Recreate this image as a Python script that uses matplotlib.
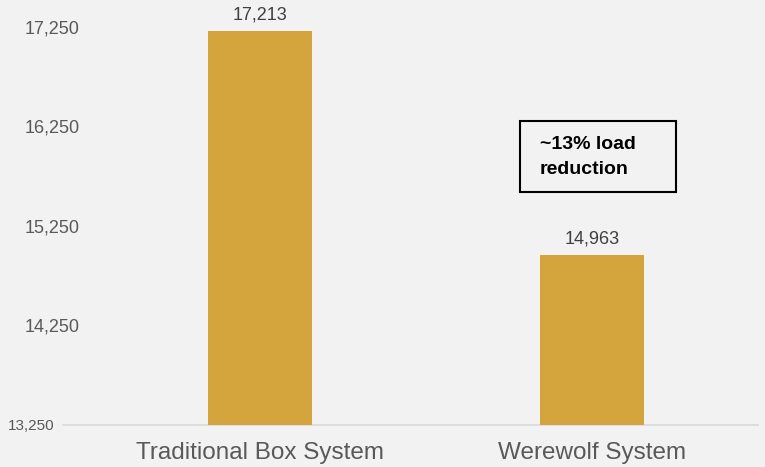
import matplotlib.pyplot as plt
import matplotlib.transforms as mtransforms
from matplotlib.ticker import FuncFormatter

plt.rcParams['font.family'] = ['Liberation Sans', 'DejaVu Sans']

# Data
categories = ['Traditional Box System', 'Werewolf System']
loads = [17213, 14963]
y_ticks = [13250, 14250, 15250, 16250, 17250]
note = '~13% load\nreduction'

bg = '#f2f2f2'
bar_color = '#d4a53c'

fig = plt.figure(figsize=(7.65, 4.67), dpi=100, facecolor=bg)
ax = fig.add_axes([63 / 765, 42 / 467, 695 / 765, 425 / 467])
ax.set_facecolor(bg)

x = list(range(len(categories)))
bars = ax.bar(x, loads, width=0.313, color=bar_color, zorder=3)

ax.set_xlim(-0.593, 1.5)
ax.set_ylim(13250, 17521)

# Value labels above each bar
for xi, v in zip(x, loads):
    ax.annotate(f'{v:,}', (xi, v), xytext=(0, 5), textcoords='offset points',
                ha='center', va='bottom', fontsize=13, color='#404040')

ax.set_yticks(y_ticks)
ax.yaxis.set_major_formatter(FuncFormatter(lambda v, p: f'{int(v):,}'))
ax.set_xticks(x)
ax.set_xticklabels(categories, fontsize=17.5, color='#595959')
ax.tick_params(axis='y', length=0, labelsize=13, labelcolor='#595959', pad=-12)
ax.tick_params(axis='x', length=0, pad=12)
fig.canvas.draw()
for lbl in ax.get_yticklabels():
    lbl.set_horizontalalignment('right')
# the bottom tick label is drawn smaller and further left in the original
low = ax.get_yticklabels()[0]
low.set_fontsize(11)
low.set_transform(low.get_transform() + mtransforms.ScaledTranslation(-25 / 100, 0, fig.dpi_scale_trans))

for side in ['top', 'right', 'left']:
    ax.spines[side].set_visible(False)
ax.spines['bottom'].set_color('#d9d9d9')
ax.spines['bottom'].set_linewidth(1.2)

# Annotation box
fig.text(540 / 765, 1 - 157 / 467, note, fontsize=14, fontweight='bold',
         color='black', ha='left', va='center', linespacing=1.6)
fig.patches.append(plt.Rectangle((520 / 765, 1 - 192 / 467), 156 / 765, 71 / 467,
                                 transform=fig.transFigure, fill=False,
                                 edgecolor='black', linewidth=1.5))

fig.savefig('out.png', dpi=100, facecolor=bg)
